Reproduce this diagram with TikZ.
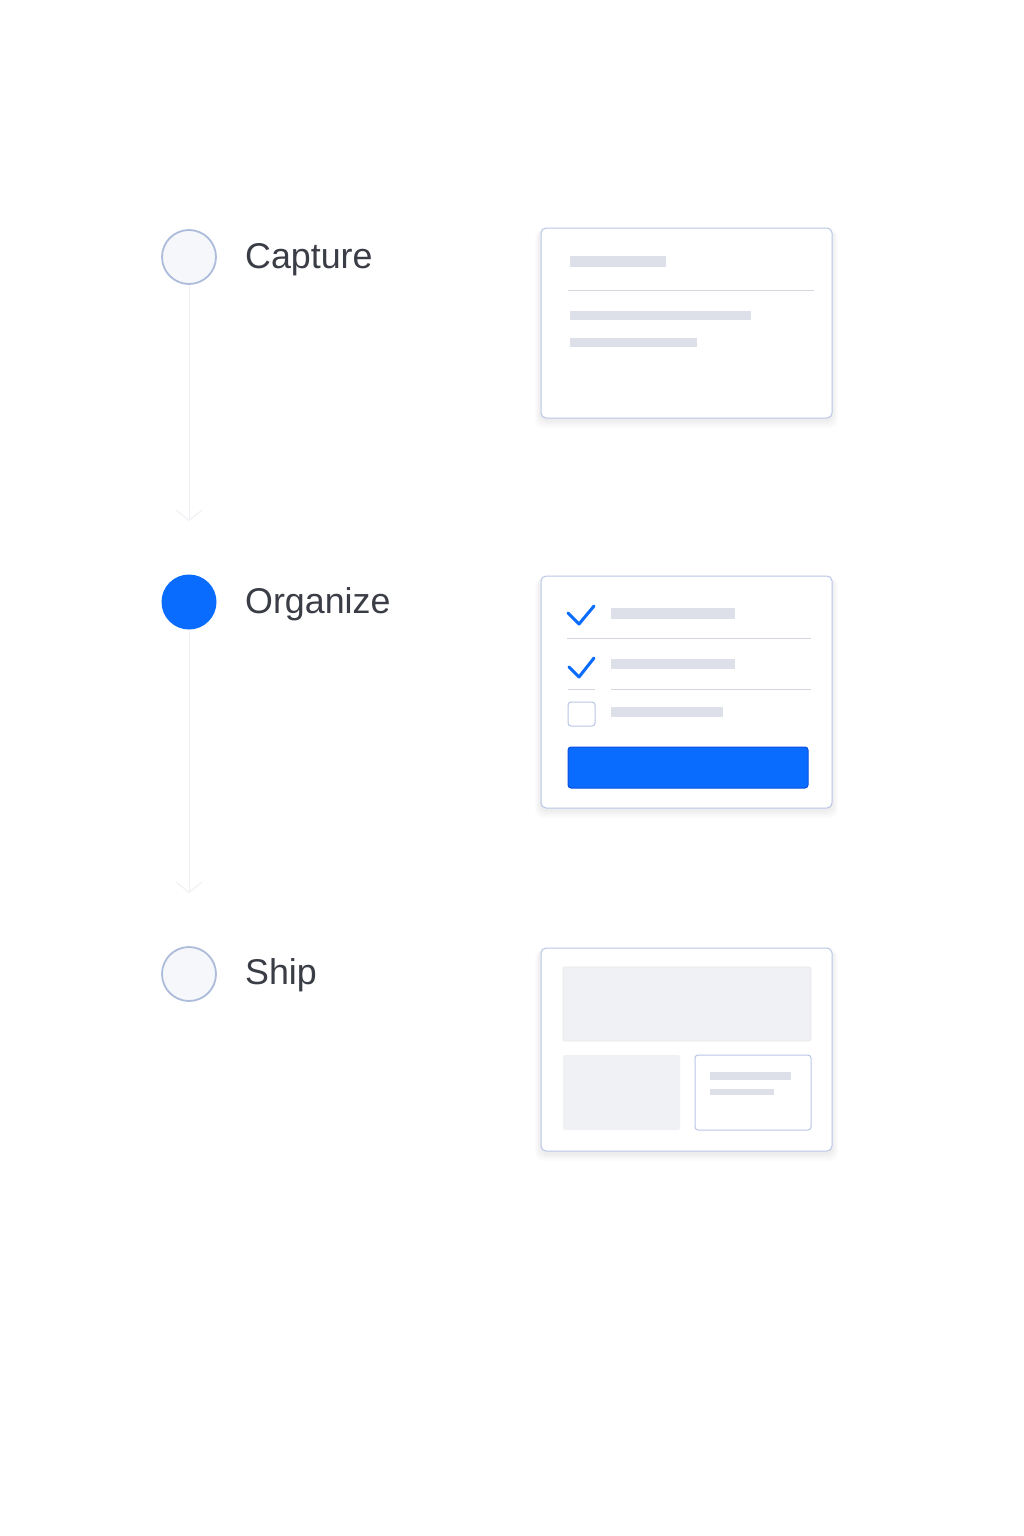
\documentclass[tikz,border=0pt]{standalone}
\usepackage{fontspec}
\setmainfont{Liberation Sans}
\usetikzlibrary{arrows.meta}
\definecolor{ink}{HTML}{3A3D45}
\definecolor{ring}{HTML}{ADBCDB}
\definecolor{ringfill}{HTML}{F5F7FB}
\definecolor{brand}{HTML}{0A6CFF}
\definecolor{brandedge}{HTML}{0A4FE0}
\definecolor{cardedge}{HTML}{B8C6E6}
\definecolor{bar}{HTML}{DDE0E8}
\definecolor{rule}{HTML}{D2D7E0}
\definecolor{block}{HTML}{F0F1F4}
\definecolor{track}{HTML}{EEF0F3}
\tikzset{
  stepdot/.style={circle, minimum size=54pt, inner sep=0pt, draw=ring, line width=1.8pt, fill=ringfill},
  activedot/.style={circle, minimum size=55pt, inner sep=0pt, fill=brand},
  steplabel/.style={anchor=base west, inner sep=0pt, text=ink, font=\fontsize{35.8}{42}\selectfont},
  card/.style={draw=cardedge, line width=1pt, fill=white, rounded corners=5pt},
  cardshadow/.style={fill=black, opacity=0.012, rounded corners=8pt},
  skel/.style={fill=bar},
  divider/.style={draw=rule, line width=1pt},
  tick/.style={draw=brand, line width=3pt, line cap=round, line join=round},
  trackline/.style={draw=track, line width=1pt, -{Straight Barb[length=10pt,width=25pt,line width=1pt]}},
}
\newcommand{\softshadow}[4]{%
  \foreach \k in {1,...,6}{%
    \fill[cardshadow] ({#1-\k},{#2+2}) rectangle ({#3+\k},{#4+2+\k*1.3});
  }%
}
\begin{document}
\begin{tikzpicture}[x=1pt,y=-1pt]
\useasboundingbox (0,0) rectangle (1024,1536);
\fill[white] (0,0) rectangle (1024,1536);

% timeline
\node[stepdot] (c1) at (189,257) {};
\node[activedot] (c2) at (189,602) {};
\node[stepdot] (c3) at (189,974) {};
\coordinate (a1) at (189,521);
\coordinate (a2) at (189,893);
\draw[trackline] (c1.south) -- (a1);
\draw[trackline] (c2.south) -- (a2);

\node[steplabel] (t1) at (245,268) {Capture};
\node[steplabel] (t2) at (245,613) {Organize};
\node[steplabel] (t3) at (245,984) {Ship};

% card 1
\softshadow{541}{228}{832}{418}
\draw[card] (541,228) rectangle (832,418);
\fill[skel] (570,256) rectangle (666,267);
\draw[divider] (568,290) -- (814,290);
\fill[skel] (570,311) rectangle (751,320);
\fill[skel] (570,338) rectangle (697,347);

% card 2
\softshadow{541}{576}{832}{808}
\draw[card] (541,576) rectangle (832,808);
\draw[tick] (568,613) -- (579,624) -- (594,606);
\fill[skel] (611,608) rectangle (735,619);
\draw[divider] (567,638) -- (811,638);
\draw[tick] (569,667) -- (579,677) -- (594,658);
\fill[skel] (611,659) rectangle (735,669);
\draw[divider] (568,689) -- (595,689);
\draw[divider] (611,689) -- (811,689);
\draw[draw=cardedge, line width=1pt, rounded corners=3pt] (568,702) rectangle (595,726);
\fill[skel] (611,707) rectangle (723,717);
\draw[fill=brand, draw=brandedge, line width=1pt, rounded corners=3pt] (568,747) rectangle (808,788);

% card 3
\softshadow{541}{948}{832}{1151}
\draw[card] (541,948) rectangle (832,1151);
\draw[fill=block, draw=block!90!black!60!white, line width=0.6pt, rounded corners=2pt] (563,967) rectangle (811,1041);
\fill[block, rounded corners=2pt] (563,1055) rectangle (680,1130);
\draw[draw=cardedge, line width=1pt, fill=white, rounded corners=3pt] (695,1055) rectangle (811,1130);
\fill[skel] (710,1072) rectangle (791,1080);
\fill[skel] (710,1089) rectangle (774,1095);
\end{tikzpicture}
\end{document}
